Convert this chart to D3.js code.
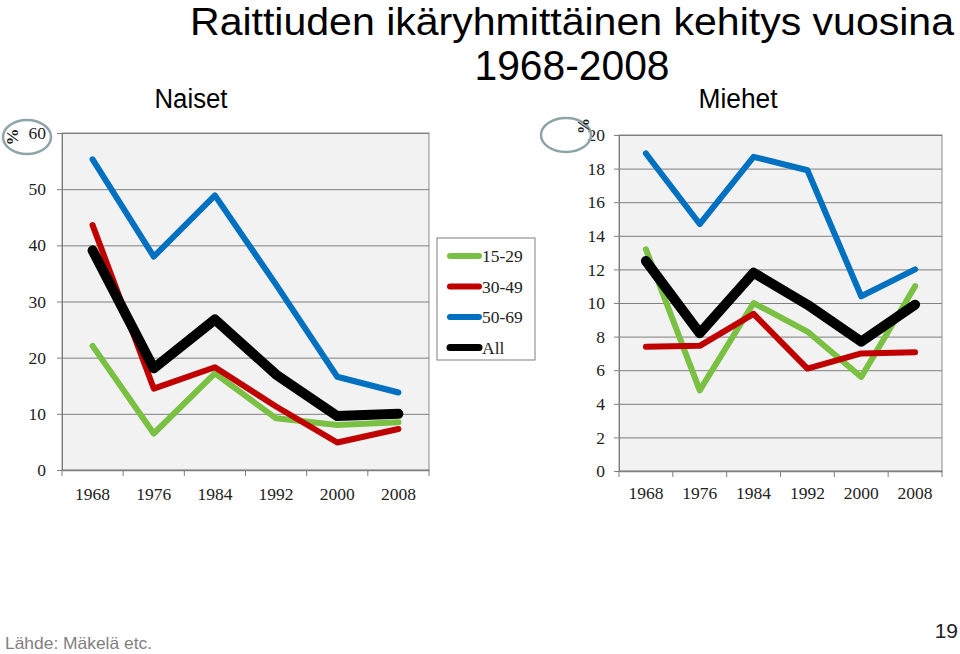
<!DOCTYPE html>
<html><head><meta charset="utf-8">
<script src="https://cdn.jsdelivr.net/npm/d3@7"></script>
<style>body{margin:0;background:#fff}svg{display:block}</style>
</head><body>
<svg id="c" width="960" height="654"></svg>
<script>
const years = ["1968","1976","1984","1992","2000","2008"];
const seriesNames = ["15-29","30-49","50-69","All"];
const seriesColors = ["#7ac143","#c00000","#0070c0","#000000"];
const seriesWidths = [6,6,6,10];
const naiset1529 = [22.1, 6.5, 17.2, 9.2, 8.0, 8.5];
const naiset3049 = [43.6, 14.5, 18.3, 11.3, 4.9, 7.3];
const naiset5069 = [55.3, 38.0, 48.9, 33.0, 16.6, 13.8];
const naisetAll  = [39.1, 18.1, 26.8, 17.0, 9.6, 10.0];
const miehet1529 = [13.2, 4.8, 10.0, 8.3, 5.6, 11.0];
const miehet3049 = [7.4, 7.45, 9.35, 6.1, 7.0, 7.07];
const miehet5069 = [18.9, 14.7, 18.7, 17.9, 10.4, 12.0];
const miehetAll  = [12.5, 8.2, 11.8, 9.9, 7.7, 9.9];
const naisetTicks = [0,10,20,30,40,50,60];
const miehetTicks = [0,2,4,6,8,10,12,14,16,18,20];

const svg = d3.select("#c");
const serif = "'Liberation Serif','Times New Roman',serif";
const sans = "'Liberation Sans Narrow','Liberation Sans',Arial,sans-serif";

function panel(cfg){
  const g = svg.append("g");
  const x = d3.scaleBand().domain(years).range([cfg.x0,cfg.x1]);
  const y = d3.scaleLinear().domain([0,cfg.max]).range([cfg.y1,cfg.y0]);
  g.append("rect").attr("x",cfg.x0).attr("y",cfg.y0).attr("width",cfg.x1-cfg.x0).attr("height",cfg.y1-cfg.y0)
    .attr("fill","#f2f2f2").attr("stroke","#8c8c8c").attr("stroke-width",1);
  g.selectAll("line.grid").data(cfg.ticks.filter(t=>t>0)).join("line")
    .attr("x1",cfg.x0).attr("x2",cfg.x1).attr("y1",d=>y(d)+0.5).attr("y2",d=>y(d)+0.5)
    .attr("stroke","#7f7f7f").attr("stroke-width",1);
  const ya = g.append("g").attr("transform",`translate(${cfg.x0},0)`)
    .call(d3.axisLeft(y).tickValues(cfg.ticks).tickSize(5).tickPadding(cfg.ypad));
  ya.select(".domain").attr("stroke","#7f7f7f");
  ya.selectAll(".tick line").attr("stroke","#7f7f7f");
  ya.selectAll("text").attr("font-family",serif).attr("font-size",17.5).attr("fill","#222");
  const xa = g.append("g").attr("transform",`translate(0,${cfg.y1})`)
    .call(d3.axisBottom(x).tickSize(0).tickPadding(cfg.xpad));
  xa.select(".domain").attr("stroke","#7f7f7f").attr("stroke-width",1.5);
  xa.selectAll("text").attr("font-family",serif).attr("font-size",17.5).attr("fill","#222");
  g.selectAll("line.xt").data(d3.range(years.length+1)).join("line")
    .attr("x1",i=>cfg.x0+i*x.step()).attr("x2",i=>cfg.x0+i*x.step())
    .attr("y1",cfg.y1).attr("y2",cfg.y1+6).attr("stroke","#7f7f7f");
  const line = d3.line().x((d,i)=>x(years[i])+x.bandwidth()/2).y(d=>y(d));
  cfg.data.forEach((s,k)=>{
    g.append("path").attr("d",line(s)).attr("fill","none")
      .attr("stroke",seriesColors[k]).attr("stroke-width",seriesWidths[k])
      .attr("stroke-linejoin","round").attr("stroke-linecap","round");
  });
}

panel({x0:62,x1:429,y0:133,y1:470,max:60,ticks:naisetTicks,ypad:11,xpad:18,
  data:[naiset1529,naiset3049,naiset5069,naisetAll]});
panel({x0:619,x1:942,y0:135,y1:471,max:20,ticks:miehetTicks,ypad:9,xpad:16,
  data:[miehet1529,miehet3049,miehet5069,miehetAll]});

// legend
const lg = svg.append("g");
lg.append("rect").attr("x",437).attr("y",238).attr("width",98).attr("height",122)
  .attr("fill","#fff").attr("stroke","#7f7f7f");
seriesNames.forEach((n,i)=>{
  const yy = 256 + i*30.5;
  lg.append("line").attr("x1",450).attr("x2",479).attr("y1",yy).attr("y2",yy)
    .attr("stroke",seriesColors[i]).attr("stroke-width",i===3?7:6).attr("stroke-linecap","round");
  lg.append("text").attr("x",482).attr("y",yy+6).text(n)
    .attr("font-family",serif).attr("font-size",17.5).attr("fill","#222");
});

// title
svg.append("text").attr("x",572).attr("y",35).attr("text-anchor","middle")
  .attr("font-family",sans).attr("font-size",38).attr("textLength",764).attr("lengthAdjust","spacingAndGlyphs")
  .text("Raittiuden ikäryhmittäinen kehitys vuosina");
svg.append("text").attr("x",572).attr("y",80).attr("text-anchor","middle")
  .attr("font-family",sans).attr("font-size",42).attr("textLength",195).attr("lengthAdjust","spacingAndGlyphs")
  .text("1968-2008");
svg.append("text").attr("x",191).attr("y",108).attr("text-anchor","middle")
  .attr("font-family",sans).attr("font-size",27).attr("textLength",73).attr("lengthAdjust","spacingAndGlyphs").text("Naiset");
svg.append("text").attr("x",738).attr("y",108).attr("text-anchor","middle")
  .attr("font-family",sans).attr("font-size",27).attr("textLength",79).attr("lengthAdjust","spacingAndGlyphs").text("Miehet");

// % markers
svg.append("ellipse").attr("cx",27).attr("cy",137).attr("rx",24).attr("ry",17)
  .attr("fill","none").attr("stroke","#8fa4a8").attr("stroke-width",2.5);
svg.append("text").attr("transform","translate(18,137) rotate(-90)").attr("text-anchor","middle")
  .attr("font-family",serif).attr("font-size",17).attr("font-weight","bold").attr("fill","#222").text("%");
svg.append("ellipse").attr("cx",566).attr("cy",135).attr("rx",25).attr("ry",17)
  .attr("fill","none").attr("stroke","#8fa4a8").attr("stroke-width",2.5);
svg.append("text").attr("transform","translate(589,126) rotate(-90)").attr("text-anchor","middle")
  .attr("font-family",serif).attr("font-size",16).attr("font-weight","bold").attr("fill","#222").text("%");

// footer
svg.append("text").attr("x",5).attr("y",649).attr("font-family",sans).attr("font-size",16.5)
  .attr("textLength",147).attr("lengthAdjust","spacingAndGlyphs")
  .attr("fill","#808080").text("Lähde: Mäkelä etc.");
svg.append("text").attr("x",958).attr("y",638).attr("text-anchor","end").attr("font-family",sans)
  .attr("font-size",21).attr("fill","#222").text("19");
</script>
</body></html>
